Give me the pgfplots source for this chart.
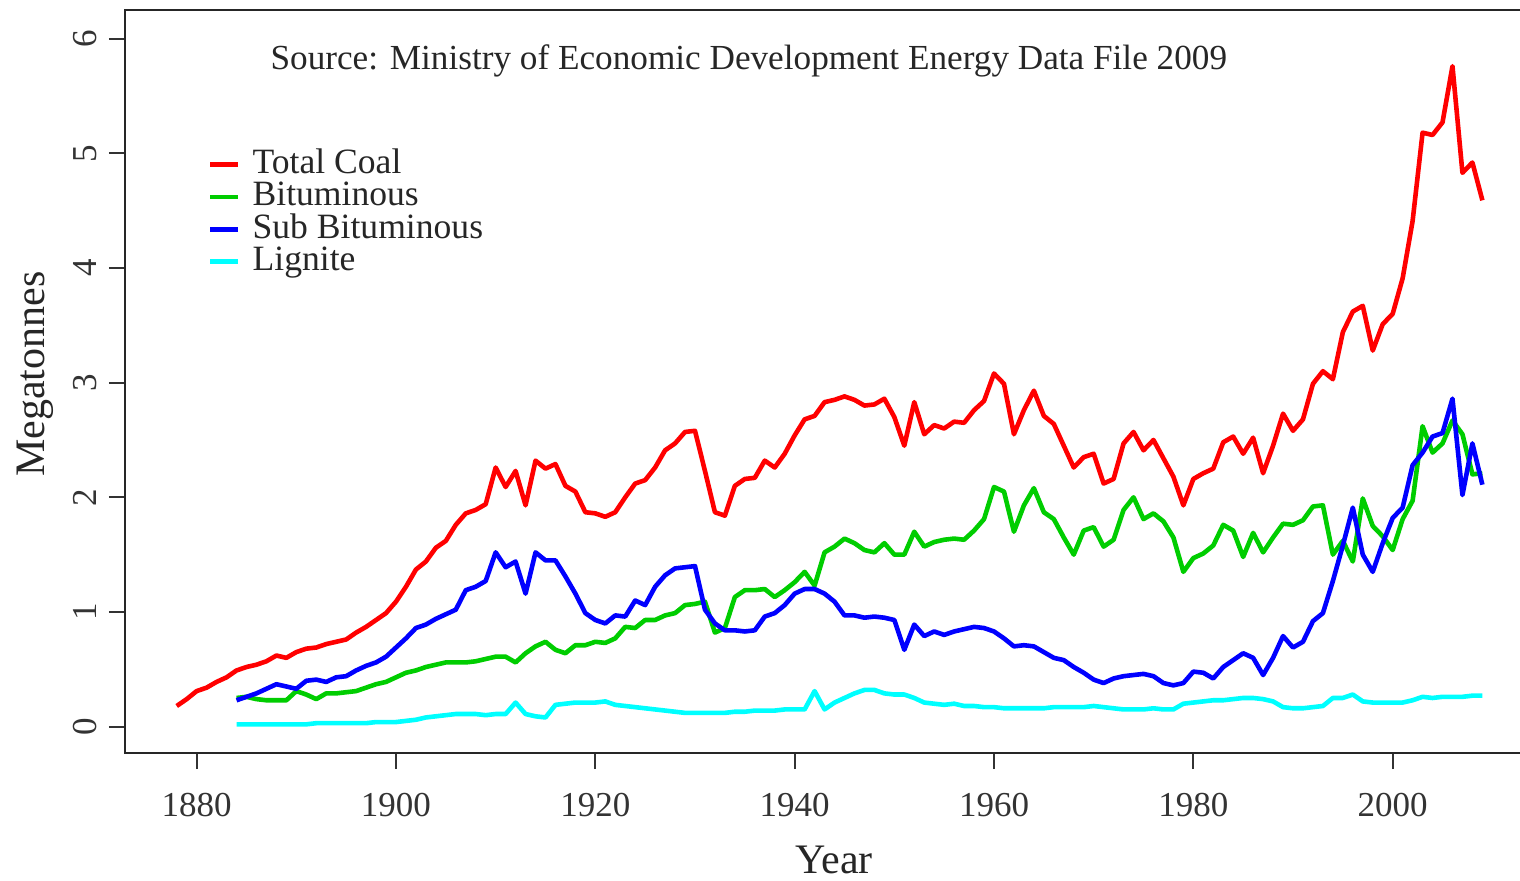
\documentclass[border=0pt]{standalone}
\usepackage{fontspec}
\setmainfont{Liberation Serif}
\usepackage{pgfplots}
\pgfplotsset{compat=1.18}
\definecolor{rred}{RGB}{255,0,0}
\definecolor{rgreen}{RGB}{0,205,0}
\definecolor{rblue}{RGB}{0,0,255}
\definecolor{rcyan}{RGB}{0,255,255}
\begin{document}
\begin{tikzpicture}
\begin{axis}[
  scale only axis, width=704.8pt, height=371.5pt,
  xmin=1872.81, xmax=2014.24, ymin=-0.23, ymax=6.25,
  xtick={1880,1900,1920,1940,1960,1980,2000}, ytick={0,1,2,3,4,5,6},
  xtick pos=left, ytick pos=left,
  tick align=outside, major tick length=8pt,
  tick style={black!80, line width=1.1pt},
  axis line style={black!85, line width=1.2pt},
  /pgf/number format/1000 sep={}, /pgf/number format/assume math mode=true,
  ticklabel style={font=\fontsize{17.5}{20}\selectfont, text=black!80},
  xticklabel style={yshift=-8.5pt},
  yticklabel style={rotate=90, anchor=south, yshift=2.5pt},
  xlabel={Year}, ylabel={Megatonnes},
  label style={font=\fontsize{21}{24}\selectfont, text=black!85},
  xlabel style={at={(axis description cs:0.503,-0.144)}, anchor=center},
  ylabel style={at={(axis description cs:-0.064,0.51)}, anchor=center},
  legend style={at={(axis cs:1880.5,5.08)}, anchor=north west, draw=none, fill=none,
    font=\fontsize{17.8}{19}\selectfont, row sep=0.2pt,
    cells={anchor=west, inner ysep=1pt, text height=10.5pt, text depth=2.5pt}, text=black!85},
  legend image code/.code={\draw[#1, line width=2.3pt] (0pt,0pt) -- (14pt,0pt); \path (18pt,0pt);},
  every axis plot/.append style={line width=2.3pt, line join=round},
]
\addplot[rred] coordinates {
(1878,0.18)(1879,0.24)(1880,0.31)(1881,0.34)(1882,0.39)(1883,0.43)(1884,0.49)(1885,0.52)(1886,0.54)(1887,0.57)
(1888,0.62)(1889,0.60)(1890,0.65)(1891,0.68)(1892,0.69)(1893,0.72)(1894,0.74)(1895,0.76)(1896,0.82)(1897,0.87)
(1898,0.93)(1899,0.99)(1900,1.09)(1901,1.22)(1902,1.37)(1903,1.44)(1904,1.56)(1905,1.62)(1906,1.76)(1907,1.86)
(1908,1.89)(1909,1.94)(1910,2.26)(1911,2.09)(1912,2.23)(1913,1.93)(1914,2.32)(1915,2.25)(1916,2.29)(1917,2.10)
(1918,2.05)(1919,1.87)(1920,1.86)(1921,1.83)(1922,1.87)(1923,2.00)(1924,2.12)(1925,2.15)(1926,2.26)(1927,2.41)
(1928,2.47)(1929,2.57)(1930,2.58)(1931,2.23)(1932,1.87)(1933,1.84)(1934,2.10)(1935,2.16)(1936,2.17)(1937,2.32)
(1938,2.26)(1939,2.38)(1940,2.54)(1941,2.68)(1942,2.71)(1943,2.83)(1944,2.85)(1945,2.88)(1946,2.85)(1947,2.80)
(1948,2.81)(1949,2.86)(1950,2.70)(1951,2.45)(1952,2.83)(1953,2.55)(1954,2.63)(1955,2.60)(1956,2.66)(1957,2.65)
(1958,2.76)(1959,2.84)(1960,3.08)(1961,2.99)(1962,2.55)(1963,2.76)(1964,2.93)(1965,2.71)(1966,2.64)(1967,2.45)
(1968,2.26)(1969,2.35)(1970,2.38)(1971,2.12)(1972,2.16)(1973,2.47)(1974,2.57)(1975,2.41)(1976,2.50)(1977,2.34)
(1978,2.18)(1979,1.93)(1980,2.16)(1981,2.21)(1982,2.25)(1983,2.48)(1984,2.53)(1985,2.38)(1986,2.52)(1987,2.21)
(1988,2.45)(1989,2.73)(1990,2.58)(1991,2.68)(1992,2.99)(1993,3.10)(1994,3.03)(1995,3.44)(1996,3.62)(1997,3.67)
(1998,3.28)(1999,3.51)(2000,3.60)(2001,3.91)(2002,4.41)(2003,5.18)(2004,5.16)(2005,5.27)(2006,5.76)(2007,4.83)
(2008,4.92)(2009,4.59)};
\addlegendentry{Total Coal}
\addplot[rgreen] coordinates {
(1884,0.25)(1885,0.26)(1886,0.24)(1887,0.23)(1888,0.23)(1889,0.23)(1890,0.31)(1891,0.28)(1892,0.24)(1893,0.29)
(1894,0.29)(1895,0.30)(1896,0.31)(1897,0.34)(1898,0.37)(1899,0.39)(1900,0.43)(1901,0.47)(1902,0.49)(1903,0.52)
(1904,0.54)(1905,0.56)(1906,0.56)(1907,0.56)(1908,0.57)(1909,0.59)(1910,0.61)(1911,0.61)(1912,0.56)(1913,0.64)
(1914,0.70)(1915,0.74)(1916,0.67)(1917,0.64)(1918,0.71)(1919,0.71)(1920,0.74)(1921,0.73)(1922,0.77)(1923,0.87)
(1924,0.86)(1925,0.93)(1926,0.93)(1927,0.97)(1928,0.99)(1929,1.06)(1930,1.07)(1931,1.09)(1932,0.82)(1933,0.86)
(1934,1.13)(1935,1.19)(1936,1.19)(1937,1.20)(1938,1.13)(1939,1.19)(1940,1.26)(1941,1.35)(1942,1.23)(1943,1.52)
(1944,1.57)(1945,1.64)(1946,1.60)(1947,1.54)(1948,1.52)(1949,1.60)(1950,1.50)(1951,1.50)(1952,1.70)(1953,1.57)
(1954,1.61)(1955,1.63)(1956,1.64)(1957,1.63)(1958,1.71)(1959,1.81)(1960,2.09)(1961,2.05)(1962,1.70)(1963,1.93)
(1964,2.08)(1965,1.87)(1966,1.81)(1967,1.65)(1968,1.50)(1969,1.71)(1970,1.74)(1971,1.57)(1972,1.63)(1973,1.89)
(1974,2.00)(1975,1.81)(1976,1.86)(1977,1.79)(1978,1.65)(1979,1.35)(1980,1.47)(1981,1.51)(1982,1.58)(1983,1.76)
(1984,1.71)(1985,1.48)(1986,1.69)(1987,1.52)(1988,1.65)(1989,1.77)(1990,1.76)(1991,1.80)(1992,1.92)(1993,1.93)
(1994,1.50)(1995,1.62)(1996,1.44)(1997,1.99)(1998,1.75)(1999,1.66)(2000,1.54)(2001,1.81)(2002,1.97)(2003,2.62)
(2004,2.39)(2005,2.47)(2006,2.67)(2007,2.55)(2008,2.20)(2009,2.21)};
\addlegendentry{Bituminous}
\addplot[rblue] coordinates {
(1884,0.23)(1885,0.26)(1886,0.29)(1887,0.33)(1888,0.37)(1889,0.35)(1890,0.33)(1891,0.40)(1892,0.41)(1893,0.39)
(1894,0.43)(1895,0.44)(1896,0.49)(1897,0.53)(1898,0.56)(1899,0.61)(1900,0.69)(1901,0.77)(1902,0.86)(1903,0.89)
(1904,0.94)(1905,0.98)(1906,1.02)(1907,1.19)(1908,1.22)(1909,1.27)(1910,1.52)(1911,1.39)(1912,1.44)(1913,1.16)
(1914,1.52)(1915,1.45)(1916,1.45)(1917,1.31)(1918,1.16)(1919,0.99)(1920,0.93)(1921,0.90)(1922,0.97)(1923,0.96)
(1924,1.10)(1925,1.06)(1926,1.22)(1927,1.32)(1928,1.38)(1929,1.39)(1930,1.40)(1931,1.02)(1932,0.90)(1933,0.84)
(1934,0.84)(1935,0.83)(1936,0.84)(1937,0.96)(1938,0.99)(1939,1.06)(1940,1.16)(1941,1.20)(1942,1.20)(1943,1.16)
(1944,1.09)(1945,0.97)(1946,0.97)(1947,0.95)(1948,0.96)(1949,0.95)(1950,0.93)(1951,0.67)(1952,0.89)(1953,0.79)
(1954,0.83)(1955,0.80)(1956,0.83)(1957,0.85)(1958,0.87)(1959,0.86)(1960,0.83)(1961,0.77)(1962,0.70)(1963,0.71)
(1964,0.70)(1965,0.65)(1966,0.60)(1967,0.58)(1968,0.52)(1969,0.47)(1970,0.41)(1971,0.38)(1972,0.42)(1973,0.44)
(1974,0.45)(1975,0.46)(1976,0.44)(1977,0.38)(1978,0.36)(1979,0.38)(1980,0.48)(1981,0.47)(1982,0.42)(1983,0.52)
(1984,0.58)(1985,0.64)(1986,0.60)(1987,0.45)(1988,0.60)(1989,0.79)(1990,0.69)(1991,0.74)(1992,0.92)(1993,0.99)
(1994,1.27)(1995,1.58)(1996,1.91)(1997,1.50)(1998,1.35)(1999,1.60)(2000,1.82)(2001,1.91)(2002,2.28)(2003,2.39)
(2004,2.53)(2005,2.56)(2006,2.86)(2007,2.02)(2008,2.47)(2009,2.11)};
\addlegendentry{Sub Bituminous}
\addplot[rcyan] coordinates {
(1884,0.02)(1885,0.02)(1886,0.02)(1887,0.02)(1888,0.02)(1889,0.02)(1890,0.02)(1891,0.02)(1892,0.03)(1893,0.03)
(1894,0.03)(1895,0.03)(1896,0.03)(1897,0.03)(1898,0.04)(1899,0.04)(1900,0.04)(1901,0.05)(1902,0.06)(1903,0.08)
(1904,0.09)(1905,0.10)(1906,0.11)(1907,0.11)(1908,0.11)(1909,0.10)(1910,0.11)(1911,0.11)(1912,0.21)(1913,0.11)
(1914,0.09)(1915,0.08)(1916,0.19)(1917,0.20)(1918,0.21)(1919,0.21)(1920,0.21)(1921,0.22)(1922,0.19)(1923,0.18)
(1924,0.17)(1925,0.16)(1926,0.15)(1927,0.14)(1928,0.13)(1929,0.12)(1930,0.12)(1931,0.12)(1932,0.12)(1933,0.12)
(1934,0.13)(1935,0.13)(1936,0.14)(1937,0.14)(1938,0.14)(1939,0.15)(1940,0.15)(1941,0.15)(1942,0.31)(1943,0.15)
(1944,0.21)(1945,0.25)(1946,0.29)(1947,0.32)(1948,0.32)(1949,0.29)(1950,0.28)(1951,0.28)(1952,0.25)(1953,0.21)
(1954,0.20)(1955,0.19)(1956,0.20)(1957,0.18)(1958,0.18)(1959,0.17)(1960,0.17)(1961,0.16)(1962,0.16)(1963,0.16)
(1964,0.16)(1965,0.16)(1966,0.17)(1967,0.17)(1968,0.17)(1969,0.17)(1970,0.18)(1971,0.17)(1972,0.16)(1973,0.15)
(1974,0.15)(1975,0.15)(1976,0.16)(1977,0.15)(1978,0.15)(1979,0.20)(1980,0.21)(1981,0.22)(1982,0.23)(1983,0.23)
(1984,0.24)(1985,0.25)(1986,0.25)(1987,0.24)(1988,0.22)(1989,0.17)(1990,0.16)(1991,0.16)(1992,0.17)(1993,0.18)
(1994,0.25)(1995,0.25)(1996,0.28)(1997,0.22)(1998,0.21)(1999,0.21)(2000,0.21)(2001,0.21)(2002,0.23)(2003,0.26)
(2004,0.25)(2005,0.26)(2006,0.26)(2007,0.26)(2008,0.27)(2009,0.27)};
\addlegendentry{Lignite}
\node[font=\fontsize{17.6}{19}\selectfont, text=black!85] at (axis cs:1935.4,5.81) {Source: Ministry of Economic Development Energy Data File 2009};
\end{axis}
\pgfresetboundingbox
\path (-62.5pt,-63.5pt) rectangle (697.5pt,376.5pt);
\end{tikzpicture}
\end{document}
